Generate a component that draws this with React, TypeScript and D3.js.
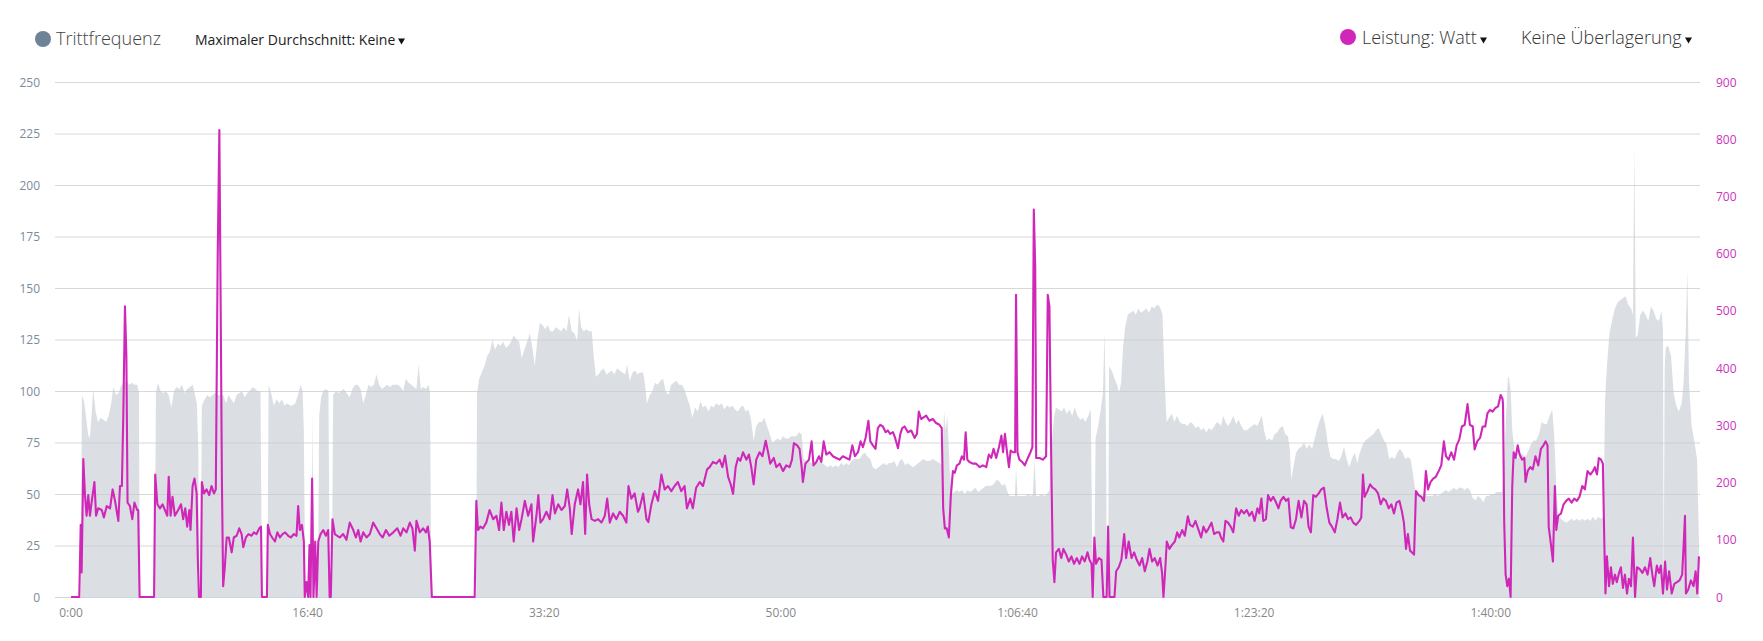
import React from "react";
import * as d3 from "d3";

// Cadence (Trittfrequenz, rpm) samples: [seconds, value]
const cadence: [number, number][] = [
  [42, 0], [46, 98], [55, 95], [63, 88], [72, 79], [80, 77], [89, 92], [94, 101], [104, 90], [114, 85],
  [125, 87], [137, 86], [148, 85], [159, 88], [170, 94], [179, 102], [190, 98], [201, 99], [213, 103], [224, 104],
  [235, 105], [246, 103], [258, 104], [269, 103], [280, 103], [287, 99], [291, 0], [353, 0], [359, 99], [367, 104],
  [379, 100], [390, 99], [401, 100], [413, 98], [424, 92], [435, 100], [446, 102], [458, 101], [469, 103], [480, 99],
  [491, 101], [503, 102], [514, 103], [524, 98], [532, 94], [538, 72], [542, 0], [548, 0], [553, 93], [565, 96],
  [576, 98], [587, 97], [598, 98], [610, 99], [621, 98], [632, 98], [643, 98], [655, 94], [666, 98], [677, 96],
  [688, 94], [700, 98], [711, 99], [722, 100], [734, 97], [745, 99], [756, 100], [767, 102], [779, 101], [790, 100],
  [801, 100], [807, 0], [830, 0], [835, 103], [846, 99], [857, 93], [869, 96], [880, 94], [891, 96], [903, 93],
  [914, 94], [925, 93], [936, 93], [948, 94], [959, 98], [970, 103], [979, 100], [984, 81], [990, 0], [1015, 0],
  [1021, 90], [1026, 0], [1043, 0], [1049, 88], [1057, 97], [1066, 100], [1077, 101], [1088, 100], [1094, 0], [1102, 0],
  [1108, 98], [1119, 100], [1131, 99], [1142, 100], [1153, 101], [1164, 99], [1178, 97], [1189, 101], [1201, 103], [1212, 103],
  [1224, 101], [1235, 94], [1246, 98], [1257, 103], [1269, 102], [1280, 103], [1291, 108], [1302, 103], [1314, 101], [1325, 102],
  [1336, 103], [1348, 102], [1359, 103], [1370, 103], [1381, 103], [1393, 102], [1404, 100], [1415, 106], [1427, 104], [1438, 103],
  [1449, 102], [1460, 101], [1469, 113], [1478, 101], [1489, 102], [1500, 101], [1511, 103], [1517, 99], [1523, 0], [1712, 0],
  [1716, 99], [1725, 106], [1736, 109], [1747, 112], [1759, 117], [1770, 119], [1781, 125], [1792, 120], [1804, 123], [1815, 122],
  [1826, 124], [1837, 121], [1849, 122], [1860, 124], [1871, 127], [1883, 125], [1894, 124], [1905, 116], [1916, 120], [1928, 124],
  [1939, 128], [1950, 121], [1960, 112], [1970, 124], [1981, 133], [1993, 132], [2004, 130], [2015, 132], [2026, 129], [2038, 129],
  [2049, 131], [2060, 130], [2071, 129], [2083, 131], [2094, 129], [2105, 137], [2116, 129], [2128, 128], [2139, 124], [2147, 140],
  [2156, 131], [2167, 129], [2178, 130], [2189, 129], [2201, 129], [2209, 117], [2218, 107], [2229, 108], [2240, 110], [2251, 111],
  [2263, 108], [2274, 109], [2285, 110], [2296, 108], [2308, 111], [2319, 110], [2330, 109], [2342, 108], [2350, 113], [2361, 105],
  [2373, 109], [2384, 110], [2395, 108], [2403, 109], [2418, 109], [2426, 103], [2434, 94], [2446, 98], [2457, 100], [2468, 104],
  [2479, 103], [2491, 105], [2502, 106], [2513, 100], [2525, 98], [2536, 103], [2547, 104], [2558, 105], [2570, 103], [2581, 103],
  [2592, 101], [2603, 97], [2615, 93], [2626, 87], [2637, 92], [2649, 90], [2660, 95], [2671, 92], [2682, 93], [2694, 90],
  [2705, 93], [2716, 92], [2727, 94], [2739, 93], [2750, 94], [2761, 91], [2772, 93], [2784, 92], [2795, 93], [2806, 91],
  [2818, 90], [2829, 92], [2840, 93], [2851, 90], [2863, 91], [2874, 86], [2885, 76], [2896, 83], [2908, 85], [2919, 85],
  [2930, 87], [2941, 83], [2953, 79], [2964, 75], [2975, 76], [2987, 77], [2998, 76], [3009, 78], [3020, 77], [3032, 77],
  [3043, 78], [3054, 78], [3065, 78], [3077, 80], [3088, 79], [3096, 67], [3108, 66], [3119, 66], [3130, 65], [3141, 64],
  [3153, 65], [3164, 66], [3175, 65], [3187, 64], [3198, 63], [3209, 64], [3220, 63], [3232, 64], [3243, 63], [3254, 65],
  [3265, 64], [3277, 65], [3288, 64], [3299, 66], [3310, 67], [3322, 67], [3333, 67], [3344, 69], [3356, 70], [3367, 68],
  [3378, 67], [3389, 63], [3401, 62], [3412, 63], [3423, 64], [3434, 65], [3446, 64], [3457, 65], [3468, 65], [3479, 66],
  [3491, 63], [3502, 66], [3513, 67], [3525, 64], [3536, 65], [3547, 64], [3558, 63], [3570, 64], [3581, 65], [3592, 66],
  [3604, 67], [3615, 66], [3628, 66], [3642, 67], [3656, 66], [3670, 65], [3681, 64], [3690, 90], [3696, 81], [3704, 88],
  [3713, 63], [3721, 50], [3733, 51], [3744, 52], [3755, 51], [3766, 52], [3777, 50], [3789, 52], [3800, 51], [3811, 52],
  [3822, 53], [3834, 51], [3845, 52], [3856, 53], [3868, 54], [3879, 54], [3890, 54], [3901, 55], [3913, 57], [3924, 56],
  [3935, 54], [3947, 55], [3958, 51], [3966, 49], [3978, 49], [3989, 49], [3994, 63], [4000, 49], [4011, 49], [4023, 49],
  [4034, 49], [4045, 50], [4056, 49], [4065, 50], [4072, 67], [4079, 49], [4090, 49], [4101, 50], [4113, 49], [4124, 50],
  [4135, 52], [4146, 76], [4155, 88], [4163, 92], [4175, 91], [4186, 90], [4197, 92], [4208, 89], [4220, 91], [4231, 88],
  [4242, 92], [4254, 88], [4265, 86], [4276, 87], [4287, 85], [4299, 88], [4310, 91], [4318, 0], [4324, 0], [4330, 77],
  [4341, 83], [4352, 91], [4361, 99], [4368, 129], [4374, 81], [4378, 0], [4383, 0], [4387, 112], [4398, 110], [4410, 106],
  [4421, 103], [4429, 99], [4438, 104], [4446, 121], [4455, 131], [4466, 137], [4477, 138], [4489, 139], [4500, 137], [4511, 140],
  [4522, 138], [4533, 139], [4545, 140], [4556, 138], [4567, 141], [4579, 140], [4590, 142], [4601, 141], [4613, 137], [4621, 108],
  [4630, 85], [4641, 87], [4652, 89], [4663, 85], [4674, 88], [4686, 85], [4697, 84], [4708, 84], [4719, 83], [4731, 85],
  [4742, 84], [4753, 82], [4764, 83], [4776, 81], [4787, 82], [4798, 80], [4809, 82], [4820, 81], [4832, 83], [4843, 85],
  [4854, 84], [4860, 83], [4870, 88], [4879, 85], [4890, 83], [4901, 85], [4912, 88], [4924, 84], [4935, 86], [4946, 83],
  [4957, 81], [4969, 81], [4980, 82], [4991, 83], [5002, 84], [5014, 83], [5025, 86], [5033, 88], [5042, 81], [5053, 76],
  [5064, 77], [5076, 76], [5087, 79], [5098, 80], [5109, 82], [5121, 83], [5132, 79], [5143, 78], [5151, 72], [5157, 57],
  [5166, 63], [5177, 70], [5188, 72], [5200, 73], [5211, 75], [5222, 72], [5233, 74], [5245, 72], [5256, 77], [5267, 82],
  [5278, 86], [5290, 89], [5301, 83], [5312, 74], [5323, 68], [5335, 67], [5346, 67], [5357, 66], [5368, 68], [5380, 73],
  [5391, 67], [5402, 63], [5413, 67], [5425, 70], [5436, 65], [5447, 70], [5459, 74], [5470, 76], [5481, 77], [5492, 78],
  [5504, 79], [5515, 81], [5526, 82], [5537, 79], [5549, 76], [5560, 74], [5571, 67], [5582, 68], [5594, 67], [5605, 70],
  [5616, 72], [5628, 70], [5639, 67], [5650, 68], [5661, 67], [5670, 61], [5678, 54], [5687, 49], [5698, 50], [5709, 49],
  [5720, 50], [5731, 49], [5743, 49], [5754, 49], [5765, 50], [5777, 49], [5788, 50], [5799, 51], [5810, 52], [5822, 51],
  [5833, 52], [5844, 53], [5856, 52], [5867, 53], [5878, 53], [5890, 52], [5901, 53], [5912, 52], [5924, 48], [5935, 47],
  [5946, 49], [5957, 48], [5969, 46], [5980, 49], [5991, 49], [6003, 50], [6014, 50], [6025, 51], [6036, 51], [6048, 51],
  [6056, 63], [6065, 88], [6072, 106], [6077, 107], [6085, 99], [6091, 81], [6102, 70], [6114, 67], [6125, 70], [6136, 69],
  [6147, 68], [6159, 71], [6170, 74], [6181, 76], [6192, 76], [6204, 79], [6215, 85], [6226, 84], [6237, 84], [6249, 88],
  [6260, 91], [6268, 79], [6277, 54], [6285, 40], [6297, 38], [6308, 37], [6319, 36], [6330, 37], [6342, 38], [6353, 37],
  [6364, 38], [6375, 37], [6387, 38], [6398, 37], [6409, 38], [6421, 37], [6432, 39], [6443, 37], [6454, 39], [6466, 38],
  [6477, 39], [6483, 95], [6491, 112], [6502, 128], [6514, 135], [6525, 140], [6536, 143], [6547, 144], [6559, 145], [6570, 146],
  [6581, 142], [6593, 140], [6601, 137], [6607, 219], [6613, 126], [6621, 127], [6632, 137], [6643, 139], [6655, 137], [6666, 134],
  [6677, 141], [6688, 139], [6700, 135], [6711, 134], [6722, 139], [6728, 130], [6731, 0], [6735, 110], [6739, 121], [6750, 122],
  [6762, 117], [6773, 99], [6784, 93], [6795, 90], [6807, 94], [6815, 104], [6824, 128], [6831, 159], [6838, 104], [6849, 83],
  [6860, 76], [6872, 67], [6880, 27],
];

// Power (Leistung, Watt) samples: [seconds, value]
const power: [number, number][] = [
  [0, 0], [35, 0], [41, 126], [45, 43], [52, 241], [59, 178], [66, 142], [73, 178], [80, 142], [87, 165],
  [99, 201], [106, 142], [115, 155], [130, 152], [139, 139], [151, 159], [165, 155], [176, 188], [186, 168], [200, 133],
  [207, 194], [215, 194], [221, 317], [228, 508], [234, 421], [239, 165], [249, 159], [259, 136], [268, 165], [280, 152],
  [284, 152], [290, 0], [351, 0], [356, 214], [365, 162], [376, 155], [387, 162], [397, 152], [407, 142], [413, 210],
  [421, 142], [429, 175], [439, 142], [453, 152], [465, 162], [474, 136], [483, 155], [491, 123], [500, 152], [505, 117],
  [514, 194], [522, 207], [531, 181], [536, 65], [541, 0], [549, 0], [553, 201], [562, 181], [573, 188], [584, 178],
  [594, 194], [604, 181], [612, 188], [620, 596], [627, 816], [632, 537], [638, 194], [643, 19], [650, 52], [658, 104],
  [667, 104], [679, 78], [688, 104], [700, 107], [711, 120], [721, 110], [728, 87], [739, 104], [750, 110], [763, 107],
  [773, 113], [784, 110], [796, 120], [803, 123], [807, 0], [828, 0], [832, 126], [841, 110], [850, 104], [862, 97],
  [872, 113], [883, 104], [894, 110], [905, 113], [918, 107], [929, 104], [942, 110], [953, 107], [960, 159], [967, 117],
  [976, 126], [984, 97], [988, 0], [995, 26], [1002, 0], [1008, 91], [1012, 0], [1019, 207], [1025, 0], [1032, 97],
  [1038, 0], [1045, 97], [1055, 110], [1066, 117], [1077, 107], [1087, 117], [1093, 0], [1098, 0], [1105, 136], [1115, 110],
  [1125, 107], [1136, 104], [1150, 110], [1164, 100], [1178, 130], [1193, 117], [1204, 104], [1214, 117], [1224, 97], [1235, 113],
  [1249, 104], [1263, 110], [1277, 130], [1291, 120], [1305, 110], [1317, 104], [1331, 117], [1345, 107], [1362, 113], [1379, 120],
  [1393, 107], [1404, 120], [1418, 113], [1432, 130], [1443, 120], [1453, 81], [1460, 133], [1474, 113], [1488, 120], [1500, 113],
  [1508, 123], [1516, 97], [1525, 0], [1706, 0], [1713, 168], [1720, 117], [1730, 123], [1741, 120], [1755, 130], [1769, 152],
  [1784, 136], [1798, 142], [1809, 117], [1819, 165], [1829, 117], [1840, 149], [1851, 126], [1861, 149], [1871, 97], [1883, 155],
  [1894, 117], [1904, 136], [1918, 168], [1932, 142], [1946, 162], [1953, 97], [1967, 142], [1975, 178], [1984, 130], [1995, 136],
  [2009, 149], [2023, 136], [2035, 178], [2045, 146], [2059, 162], [2073, 152], [2087, 159], [2097, 188], [2108, 155], [2116, 110],
  [2129, 162], [2143, 188], [2153, 162], [2164, 201], [2173, 110], [2181, 214], [2190, 162], [2200, 136], [2214, 133], [2228, 136],
  [2242, 130], [2256, 142], [2266, 172], [2277, 130], [2291, 146], [2305, 136], [2319, 149], [2333, 142], [2347, 130], [2356, 194],
  [2368, 172], [2382, 181], [2396, 149], [2403, 155], [2418, 181], [2432, 136], [2440, 131], [2453, 162], [2467, 185], [2481, 168],
  [2495, 214], [2509, 188], [2523, 194], [2537, 185], [2551, 194], [2565, 201], [2579, 185], [2593, 194], [2603, 155], [2617, 172],
  [2628, 155], [2642, 191], [2657, 201], [2671, 194], [2688, 223], [2699, 227], [2713, 236], [2727, 233], [2741, 240], [2753, 227],
  [2764, 247], [2777, 210], [2788, 197], [2798, 180], [2809, 227], [2819, 243], [2829, 238], [2840, 253], [2854, 240], [2865, 249],
  [2875, 227], [2885, 197], [2896, 240], [2910, 253], [2922, 246], [2936, 273], [2946, 253], [2955, 233], [2970, 243], [2981, 227],
  [2995, 233], [3009, 220], [3023, 230], [3037, 227], [3047, 240], [3055, 269], [3069, 265], [3079, 259], [3088, 227], [3093, 201],
  [3104, 233], [3119, 240], [3130, 272], [3138, 230], [3150, 236], [3161, 246], [3171, 236], [3181, 272], [3192, 249], [3206, 253],
  [3220, 246], [3234, 243], [3248, 240], [3262, 246], [3276, 243], [3290, 240], [3302, 265], [3313, 246], [3326, 253], [3337, 272],
  [3347, 262], [3358, 278], [3370, 308], [3378, 272], [3389, 265], [3400, 259], [3410, 295], [3420, 301], [3431, 298], [3443, 288],
  [3452, 291], [3462, 285], [3474, 288], [3483, 278], [3495, 260], [3505, 285], [3513, 295], [3523, 298], [3537, 288], [3551, 291],
  [3565, 278], [3575, 285], [3583, 324], [3593, 311], [3603, 314], [3614, 317], [3628, 308], [3642, 311], [3656, 304], [3670, 301],
  [3680, 295], [3686, 155], [3693, 120], [3701, 120], [3710, 104], [3718, 175], [3727, 220], [3735, 217], [3744, 230], [3755, 233],
  [3765, 246], [3774, 240], [3781, 288], [3788, 240], [3797, 236], [3811, 233], [3825, 233], [3840, 227], [3854, 230], [3868, 227],
  [3879, 249], [3889, 243], [3899, 259], [3910, 243], [3922, 262], [3932, 282], [3939, 253], [3947, 285], [3955, 256], [3964, 227],
  [3971, 256], [3981, 253], [3990, 253], [3994, 528], [4000, 253], [4008, 240], [4020, 236], [4031, 230], [4044, 243], [4055, 253],
  [4063, 262], [4069, 677], [4075, 576], [4079, 243], [4093, 243], [4107, 240], [4121, 246], [4128, 528], [4135, 508], [4142, 259],
  [4149, 65], [4156, 26], [4163, 78], [4175, 84], [4185, 68], [4194, 84], [4206, 74], [4217, 62], [4228, 71], [4239, 58],
  [4251, 68], [4262, 58], [4273, 71], [4284, 62], [4296, 78], [4304, 65], [4313, 58], [4318, 0], [4325, 104], [4332, 58],
  [4344, 68], [4355, 65], [4363, 0], [4377, 0], [4383, 123], [4389, 0], [4410, 0], [4417, 45], [4428, 52], [4439, 65],
  [4451, 110], [4459, 68], [4470, 97], [4482, 68], [4493, 78], [4504, 65], [4516, 55], [4527, 68], [4538, 45], [4549, 62],
  [4558, 84], [4569, 62], [4580, 68], [4592, 55], [4603, 68], [4611, 42], [4617, 0], [4624, 45], [4631, 97], [4642, 84],
  [4653, 91], [4665, 97], [4675, 113], [4684, 104], [4696, 117], [4707, 107], [4720, 141], [4729, 126], [4741, 123], [4752, 133],
  [4763, 120], [4776, 104], [4786, 123], [4797, 113], [4808, 120], [4820, 130], [4831, 110], [4842, 113], [4853, 113], [4860, 104],
  [4870, 97], [4879, 133], [4890, 130], [4901, 123], [4912, 113], [4924, 155], [4935, 142], [4946, 152], [4957, 146], [4969, 152],
  [4980, 142], [4991, 149], [5002, 133], [5014, 155], [5022, 146], [5031, 172], [5039, 133], [5050, 136], [5059, 178], [5070, 168],
  [5081, 175], [5093, 165], [5103, 155], [5112, 168], [5124, 175], [5135, 168], [5145, 172], [5155, 122], [5166, 120], [5177, 136],
  [5188, 168], [5200, 139], [5211, 168], [5222, 162], [5230, 123], [5240, 113], [5250, 178], [5261, 175], [5273, 181], [5284, 188],
  [5295, 191], [5307, 155], [5318, 130], [5329, 123], [5341, 113], [5352, 136], [5363, 165], [5374, 139], [5386, 146], [5397, 136],
  [5408, 139], [5419, 130], [5431, 126], [5445, 133], [5453, 139], [5460, 214], [5467, 175], [5479, 185], [5490, 197], [5501, 191],
  [5512, 188], [5524, 181], [5535, 162], [5546, 172], [5557, 168], [5569, 155], [5580, 162], [5591, 146], [5602, 165], [5614, 168],
  [5625, 149], [5633, 130], [5642, 84], [5650, 110], [5659, 81], [5667, 78], [5676, 74], [5684, 185], [5695, 178], [5707, 175],
  [5718, 168], [5726, 220], [5735, 188], [5746, 201], [5757, 207], [5768, 210], [5780, 220], [5791, 230], [5802, 272], [5811, 246],
  [5822, 240], [5833, 253], [5845, 240], [5856, 265], [5867, 275], [5878, 298], [5890, 301], [5902, 337], [5912, 301], [5924, 298],
  [5932, 258], [5943, 272], [5955, 278], [5966, 298], [5977, 298], [5986, 321], [5997, 327], [6008, 324], [6019, 330], [6031, 333],
  [6042, 353], [6050, 346], [6052, 337], [6057, 130], [6063, 39], [6070, 19], [6077, 32], [6084, 0], [6091, 194], [6097, 253],
  [6105, 243], [6114, 265], [6122, 249], [6133, 240], [6142, 243], [6147, 201], [6156, 220], [6167, 227], [6178, 223], [6189, 246],
  [6201, 230], [6212, 259], [6223, 265], [6232, 272], [6240, 265], [6245, 123], [6253, 97], [6263, 62], [6271, 194], [6277, 117],
  [6285, 142], [6297, 146], [6308, 162], [6319, 168], [6330, 172], [6342, 165], [6353, 172], [6364, 168], [6375, 175], [6387, 194],
  [6398, 188], [6409, 220], [6421, 214], [6432, 220], [6440, 227], [6449, 214], [6457, 243], [6466, 240], [6474, 233], [6480, 97],
  [6485, 6], [6491, 71], [6500, 19], [6508, 52], [6516, 23], [6525, 39], [6533, 26], [6542, 42], [6550, 52], [6559, 16],
  [6567, 39], [6576, 6], [6584, 32], [6593, 19], [6601, 104], [6610, 0], [6618, 52], [6629, 49], [6641, 42], [6652, 52],
  [6663, 39], [6674, 68], [6683, 39], [6691, 19], [6702, 55], [6711, 42], [6719, 55], [6728, 6], [6737, 62], [6745, 13],
  [6754, 45], [6765, 6], [6776, 23], [6787, 26], [6798, 29], [6809, 39], [6816, 97], [6821, 142], [6825, 6], [6835, 13],
  [6846, 29], [6857, 19], [6866, 45], [6873, 6], [6880, 71],
];

const cadenceTicks = [0, 25, 50, 75, 100, 125, 150, 175, 200, 225, 250];
const powerTicks = [0, 100, 200, 300, 400, 500, 600, 700, 800, 900];
const timeTicks = [0, 1000, 2000, 3000, 4000, 5000, 6000];

const cadenceLabel = "Trittfrequenz";
const averageLabel = "Maximaler Durchschnitt: Keine";
const powerLabel = "Leistung: Watt";
const overlayLabel = "Keine Überlagerung";

const W = 1763;
const H = 641;
const PLOT_LEFT = 55;
const PLOT_RIGHT = 1700;
const Y_BOTTOM = 597;
const Y_TOP = 82;
const T_END = 6880;

const CADENCE_COLOR = "#6f8396";
const POWER_COLOR = "#cf28b9";
const FONT = "'Open Sans', 'Noto Sans', sans-serif";

function fmtTime(t: number): string {
  const h = Math.floor(t / 3600);
  const m = Math.floor((t % 3600) / 60);
  const s = Math.floor(t % 60);
  const ss = String(s).padStart(2, "0");
  if (h > 0) return `${h}:${String(m).padStart(2, "0")}:${ss}`;
  return `${m}:${ss}`;
}

function Caret({ x, y }: { x: number; y: number }) {
  return <path d={`M${x},${y} L${x + 7},${y} L${x + 3.5},${y + 6} Z`} fill="#111" />;
}

export default function App() {
  const x = d3.scaleLinear().domain([0, T_END]).range([71, 71 + T_END * 0.23662]);
  const yC = d3.scaleLinear().domain([0, 250]).range([Y_BOTTOM, Y_TOP]);
  const yP = d3.scaleLinear().domain([0, 900]).range([Y_BOTTOM, Y_TOP]);

  const area = d3
    .area<[number, number]>()
    .x((d) => x(d[0]))
    .y0(Y_BOTTOM)
    .y1((d) => yC(d[1]));
  const line = d3
    .line<[number, number]>()
    .x((d) => x(d[0]))
    .y((d) => yP(d[1]));

  return (
    <svg
      width={W}
      height={H}
      style={{ position: "absolute", left: 0, top: 0, background: "#fff" }}
      fontFamily={FONT}
    >
      {/* legend */}
      <circle cx={43} cy={39} r={8} fill={CADENCE_COLOR} />
      <text x={56} y={45} fontSize={18} fontWeight={300} fill="#444">
        {cadenceLabel}
      </text>
      <text x={195} y={45} fontSize={14} fill="#222">
        {averageLabel}
      </text>
      <Caret x={398} y={38.5} />

      <circle cx={1348} cy={37} r={8} fill={POWER_COLOR} />
      <text x={1362} y={44} fontSize={18} fontWeight={300} fill="#333">
        {powerLabel}
      </text>
      <Caret x={1480} y={37.5} />
      <text x={1521} y={44} fontSize={18} fontWeight={300} fill="#333">
        {overlayLabel}
      </text>
      <Caret x={1685} y={37.5} />

      {/* gridlines */}
      {cadenceTicks.map((v) => (
        <line
          key={"g" + v}
          x1={PLOT_LEFT}
          x2={PLOT_RIGHT}
          y1={yC(v) + 0.5}
          y2={yC(v) + 0.5}
          stroke={v === 0 ? "#ccd6e0" : "#d8d8d8"}
          strokeWidth={1}
        />
      ))}

      {/* cadence area */}
      <path d={area(cadence) || ""} fill="#c5ccd3" fillOpacity={0.62} />

      {/* power line */}
      <path
        d={line(power) || ""}
        fill="none"
        stroke={POWER_COLOR}
        strokeWidth={2.1}
        strokeLinejoin="round"
      />

      {/* left axis labels */}
      {cadenceTicks.map((v) => (
        <text
          key={"l" + v}
          x={40}
          y={yC(v) + 4.5}
          fontSize={12}
          textAnchor="end"
          fill="#7b8b9c"
        >
          {v}
        </text>
      ))}

      {/* right axis labels */}
      {powerTicks.map((v) => (
        <text key={"r" + v} x={1716} y={yP(v) + 4.5} fontSize={12} fill="#cc33bb">
          {v}
        </text>
      ))}

      {/* x axis labels */}
      {timeTicks.map((t) => (
        <text
          key={"t" + t}
          x={x(t)}
          y={617}
          fontSize={12}
          textAnchor="middle"
          fill="#888"
        >
          {fmtTime(t)}
        </text>
      ))}
    </svg>
  );
}
